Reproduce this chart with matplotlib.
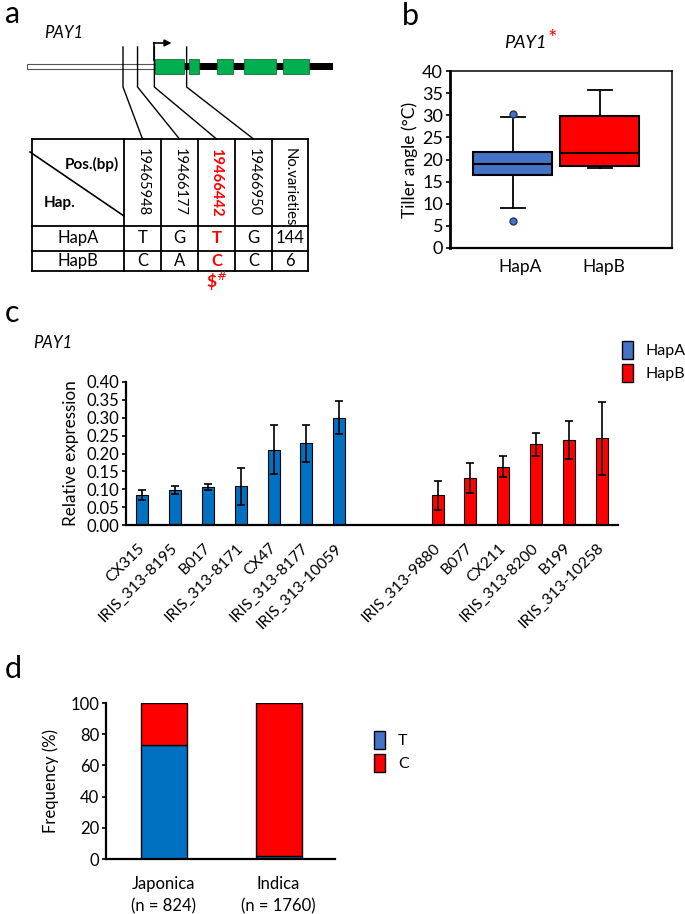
import numpy as np
import matplotlib
matplotlib.use("Agg")
import matplotlib.pyplot as plt
from matplotlib.patches import Rectangle, Patch

plt.rcParams["font.family"] = ["Lato", "DejaVu Sans"]

W, H = 685, 914          # figure size in pixels
BLUE = "#0070C0"
BLUE_L = "#4472C4"
RED = "#FF0000"
GREEN = "#00B050"

# ── data ──────────────────────────────────────────────────────────────
snp_pos = [19465948, 19466177, 19466442, 19466950]
gene_span = (19464436, 19469255)
tss = 19466445
exons = [(19466445, 19466909), (19466987, 19467145), (19467428, 19467680),
         (19467854, 19468357), (19468468, 19468877)]
hap_names = ["HapA", "HapB"]
hap_alleles = [["T", "G", "T", "G", "144"],
               ["C", "A", "C", "C", "6"]]

# tiller angle box stats
tiller_stats = [
    dict(med=19.0, q1=16.4, q3=21.8, whislo=9.0, whishi=29.5, fliers=[6.2, 30.2]),
    dict(med=21.4, q1=18.5, q3=29.8, whislo=18.0, whishi=35.6, fliers=[]),
]

hapA_lines = ["CX315", "IRIS_313-8195", "B017", "IRIS_313-8171", "CX47",
              "IRIS_313-8177", "IRIS_313-10059"]
hapA_expr = [0.084, 0.098, 0.106, 0.108, 0.211, 0.228, 0.300]
hapA_err = [0.014, 0.012, 0.008, 0.051, 0.068, 0.051, 0.046]
hapB_lines = ["IRIS_313-9880", "B077", "CX211", "IRIS_313-8200", "B199",
              "IRIS_313-10258"]
hapB_expr = [0.083, 0.131, 0.163, 0.226, 0.238, 0.242]
hapB_err = [0.040, 0.042, 0.030, 0.032, 0.052, 0.103]

groups = ["Japonica\n(n = 824)", "Indica\n(n = 1760)"]
freq_T = [73, 2]
freq_C = [27, 98]


def rect(x0, y0, x1, y1):
    return [x0 / W, 1 - y1 / H, (x1 - x0) / W, (y1 - y0) / H]


fig = plt.figure(figsize=(W / 100, H / 100), dpi=100)

# panel letters
for lbl, x, y in [("a", 5, 23), ("b", 402, 25), ("c", 5, 322), ("d", 5, 678)]:
    fig.text(x / W, 1 - y / H, lbl, fontsize=22, va="baseline")

# ── a : gene model + haplotype table ─────────────────────────────────
ax_a = fig.add_axes(rect(0, 0, 340, 300))
ax_a.set_xlim(0, 340)
ax_a.set_ylim(300, 0)
ax_a.axis("off")

px_per_bp = 0.0635
def bp2x(p):
    return 123 + (p - snp_pos[0]) * px_per_bp

ax_a.text(44, 38, "PAY1", fontsize=12, style="italic")
# promoter (open) and gene body (black)
ax_a.add_patch(Rectangle((bp2x(gene_span[0]), 63.5), bp2x(tss) - bp2x(gene_span[0]), 5,
                         facecolor="white", edgecolor="#555555", lw=0.8))
ax_a.add_patch(Rectangle((bp2x(tss), 63), bp2x(gene_span[1]) - bp2x(tss), 6.5,
                         facecolor="black", lw=0))
for s, e in exons:
    ax_a.add_patch(Rectangle((bp2x(s), 59), bp2x(e) - bp2x(s), 15,
                             facecolor=GREEN, edgecolor="#1a6b3a", lw=0.6, zorder=3))
# TSS arrow
ax_a.plot([bp2x(tss) - 0.5] * 2, [60, 43], color="black", lw=1.2, zorder=4)
ax_a.annotate("", xy=(bp2x(tss) + 17, 43), xytext=(bp2x(tss) - 1, 43),
              arrowprops=dict(arrowstyle="-|>", color="black", lw=1.2,
                              mutation_scale=10, shrinkA=0, shrinkB=0), zorder=4)

# table geometry
col_x = [32, 124, 161, 198, 235, 272, 308]
row_y = [139, 226, 251, 271]
for i, p in enumerate(snp_pos):
    x = bp2x(p)
    xc = (col_x[i + 1] + col_x[i + 2]) / 2
    ax_a.plot([x, x, xc], [47, 87, row_y[0]], color="black", lw=1.0, zorder=4)

for y in row_y:
    ax_a.plot([col_x[0], col_x[-1]], [y, y], color="black", lw=1.3)
for x in col_x:
    ax_a.plot([x, x], [row_y[0], row_y[-1]], color="black", lw=1.3)
ax_a.plot([30, col_x[1]], [152, row_y[1] - 10], color="black", lw=1.2)
ax_a.text(119, 164, "Pos.(bp)", fontsize=11, fontweight="bold", ha="right", va="center")
ax_a.text(44, 203, "Hap.", fontsize=11, fontweight="bold", ha="left", va="center")

headers = [str(p) for p in snp_pos] + ["No.varieties"]
for j, h in enumerate(headers):
    xc = (col_x[j + 1] + col_x[j + 2]) / 2
    red = j == 2
    ax_a.text(xc, 148, h, rotation=-90, ha="center", va="top", fontsize=10.6,
              color=RED if red else "black", fontweight="bold" if red else "normal")
for r, (name, alleles) in enumerate(zip(hap_names, hap_alleles)):
    yc = (row_y[r + 1] + row_y[r + 2]) / 2
    ax_a.text((col_x[0] + col_x[1]) / 2, yc, name, ha="center", va="center", fontsize=12)
    for j, a in enumerate(alleles):
        xc = (col_x[j + 1] + col_x[j + 2]) / 2
        red = j == 2
        ax_a.text(xc, yc, a, ha="center", va="center", fontsize=12,
                  color=RED if red else "black", fontweight="bold" if red else "normal")
ax_a.text((col_x[3] + col_x[4]) / 2, 281, r"\$$^{\#}$", ha="center", va="center",
          fontsize=12.5, color=RED, fontweight="bold")

# ── b : tiller angle boxplot ─────────────────────────────────────────
ax_b = fig.add_axes(rect(450, 71, 672, 248))
bp = ax_b.bxp(tiller_stats, positions=[1, 2], widths=0.91, patch_artist=True,
              capwidths=[0.27, 0.27], showfliers=True,
              medianprops=dict(color="black", lw=1.5),
              whiskerprops=dict(color="black", lw=1.3),
              capprops=dict(color="black", lw=1.3),
              boxprops=dict(edgecolor="black", lw=1.5),
              flierprops=dict(marker="o", markersize=5, markerfacecolor=BLUE_L,
                              markeredgecolor="#1f3864"))
for patch, c in zip(bp["boxes"], [BLUE_L, RED]):
    patch.set_facecolor(c)
ax_b.set_xlim(0.276, 2.83)
ax_b.set_ylim(0, 40)
ax_b.set_yticks(np.arange(0, 41, 5))
ax_b.set_xticks([1.08, 2.05])
ax_b.set_xticklabels(hap_names)
ax_b.tick_params(axis="x", length=0, labelsize=12.5, pad=8)
ax_b.tick_params(axis="y", length=3, width=1.2, labelsize=13, pad=2)
for sp in ax_b.spines.values():
    sp.set_linewidth(1.1)
ax_b.spines["left"].set_linewidth(2)
ax_b.spines["bottom"].set_linewidth(1.6)
ax_b.set_ylabel("Tiller angle (°C)", fontsize=12.5, labelpad=3)
fig.text(547 / W, 1 - 43 / H, "PAY1", fontsize=13, style="italic", ha="right", va="center")
fig.text(548 / W, 1 - 39 / H, "*", fontsize=16, color=RED, ha="left", va="center")

# ── c : relative expression ─────────────────────────────────────────
ax_c = fig.add_axes(rect(126, 382, 618, 525))
pos_a = np.arange(len(hapA_expr))
pos_b = np.arange(len(hapB_expr)) + len(hapA_expr) + 2
ekw = dict(elinewidth=1.2, capthick=1.2, ecolor="black")
ax_c.bar(pos_a, hapA_expr, width=0.37, color=BLUE, edgecolor="black", lw=0.8,
         yerr=hapA_err, capsize=3, error_kw=ekw)
ax_c.bar(pos_b, hapB_expr, width=0.37, color=RED, edgecolor="black", lw=0.8,
         yerr=hapB_err, capsize=3, error_kw=ekw)
ax_c.set_xlim(-0.5, pos_b[-1] + 0.5)
ax_c.set_ylim(0, 0.40)
ax_c.set_yticks(np.arange(0, 0.401, 0.05))
ax_c.set_yticklabels([f"{v:.2f}" for v in np.arange(0, 0.401, 0.05)])
ax_c.set_xticks(np.concatenate([pos_a, pos_b]))
ax_c.set_xticklabels(hapA_lines + hapB_lines, rotation=45, ha="right", va="center",
                     rotation_mode="anchor", fontsize=11.3)
ax_c.tick_params(axis="x", length=0, pad=15)
ax_c.tick_params(axis="y", length=3, width=1.2, labelsize=12, pad=2)
ax_c.spines[["top", "right"]].set_visible(False)
ax_c.spines["left"].set_linewidth(1.6)
ax_c.spines["bottom"].set_linewidth(1.6)
ax_c.set_ylabel("Relative expression", fontsize=12.3, labelpad=5)
fig.text(33 / W, 1 - 343 / H, "PAY1", fontsize=12, style="italic", va="center")
fig.legend(handles=[Patch(facecolor=BLUE_L, edgecolor="black", lw=1),
                    Patch(facecolor=RED, edgecolor="black", lw=1)],
           labels=hap_names, loc="upper left", bbox_to_anchor=(622 / W, 1 - 341 / H),
           frameon=False, fontsize=11.5, handlelength=0.7, handleheight=1.35,
           labelspacing=0.3, handletextpad=0.8, borderpad=0, borderaxespad=0)

# ── d : allele frequency ────────────────────────────────────────────
ax_d = fig.add_axes(rect(106, 703, 335, 859))
xd = np.arange(len(groups))
ax_d.bar(xd, freq_T, width=0.4, color=BLUE, edgecolor="black", lw=1)
ax_d.bar(xd, freq_C, width=0.4, bottom=freq_T, color=RED, edgecolor="black", lw=1)
ax_d.set_xlim(-0.5, 1.49)
ax_d.set_ylim(0, 100)
ax_d.set_yticks(np.arange(0, 101, 20))
ax_d.set_xticks(xd)
ax_d.set_xticklabels(groups, fontsize=12, linespacing=1.5)
ax_d.tick_params(axis="x", length=0, pad=12)
ax_d.tick_params(axis="y", length=3, width=1.2, labelsize=12, pad=2)
ax_d.spines[["top", "right"]].set_visible(False)
ax_d.spines["left"].set_linewidth(1.6)
ax_d.spines["bottom"].set_linewidth(1.6)
ax_d.set_ylabel("Frequency (%)", fontsize=12, labelpad=8)
fig.legend(handles=[Patch(facecolor=BLUE_L, edgecolor="black", lw=1),
                    Patch(facecolor=RED, edgecolor="black", lw=1)],
           labels=["T", "C"], loc="upper left", bbox_to_anchor=(374 / W, 1 - 731 / H),
           frameon=False, fontsize=11.5, handlelength=0.7, handleheight=1.35,
           labelspacing=0.3, handletextpad=0.8, borderpad=0, borderaxespad=0)

fig.savefig("out.png", dpi=100)
